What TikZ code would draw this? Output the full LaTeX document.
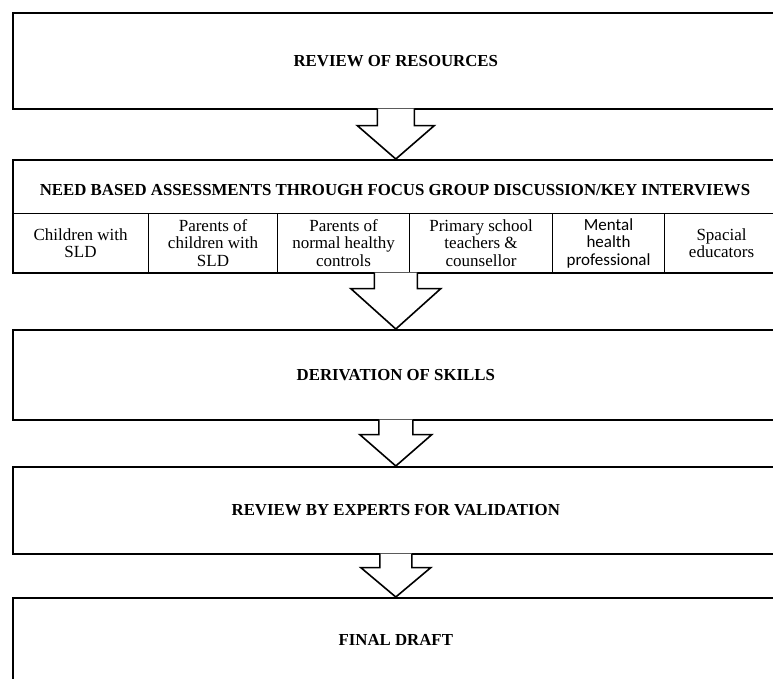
\documentclass[tikz,border=0pt]{standalone}
\usepackage{fontspec}
\setmainfont{Liberation Serif}
\newfontfamily\calibri{Carlito}
\usetikzlibrary{calc}
\tikzset{
  box/.style={draw, line width=1.6pt, anchor=north west, inner sep=0pt,
    font=\fontsize{16.8}{18}\selectfont\bfseries},
  cell/.style={draw, line width=1.1pt, anchor=north west, inner sep=0pt,
    minimum height=59pt, align=center, font=\fontsize{17}{17.5}\selectfont},
  blk/.style={draw, line width=1.6pt, fill=white, line join=miter},
}
% block arrow: from, to, half shaft, half head, shaft length
\newcommand{\blockarrow}[5]{%
  \filldraw[blk] ($(#1.south)+(-#3,-1)$) -- ($(#1.south)+(-#3,#5)$)
    -- ($(#1.south)+(-#4,#5)$) -- (#2.north) -- ($(#1.south)+(#4,#5)$)
    -- ($(#1.south)+(#3,#5)$) -- ($(#1.south)+(#3,-1)$);
}
\begin{document}
\begin{tikzpicture}[x=1pt,y=-1pt]
\useasboundingbox (0,0) rectangle (773,679);
\clip (0,0) rectangle (773,679);
\node[box, minimum width=766pt, minimum height=96pt] (box1) at (12,12) {REVIEW OF RESOURCES};
\node[box, minimum width=766pt, minimum height=113pt] (box2) at (12,159) {};
\node[font=\fontsize{16.8}{18}\selectfont\bfseries, anchor=base] (title2) at (395,195) {NEED BASED ASSESSMENTS THROUGH FOCUS GROUP DISCUSSION/KEY INTERVIEWS};
\node[cell, minimum width=136pt] (cell1) at (12,213) {Children with\\SLD};
\node[cell, minimum width=129pt] (cell2) at (148,213) {Parents of\\children with\\SLD};
\node[cell, minimum width=132pt] (cell3) at (277,213) {Parents of\\normal healthy\\controls};
\node[cell, minimum width=143pt] (cell4) at (409,213) {Primary school\\teachers \&\\counsellor};
\node[cell, minimum width=112pt, font={\fontsize{17}{17.5}\selectfont\calibri}] (cell5) at (552,213) {Mental\\health\\professional};
\node[cell, minimum width=114pt] (cell6) at (664,213) {Spacial\\educators};
\node[box, minimum width=766pt, minimum height=90pt] (box3) at (12,329) {DERIVATION OF SKILLS};
\node[box, minimum width=766pt, minimum height=87pt] (box4) at (12,466) {REVIEW BY EXPERTS FOR VALIDATION};
\node[box, minimum width=766pt, minimum height=85pt] (box5) at (12,597) {FINAL DRAFT};
\blockarrow{box1}{box2}{18.5}{38.5}{16}
\blockarrow{box2}{box3}{21.5}{45}{15}
\blockarrow{box3}{box4}{17}{36}{14}
\blockarrow{box4}{box5}{16}{35}{13}
\end{tikzpicture}
\end{document}
